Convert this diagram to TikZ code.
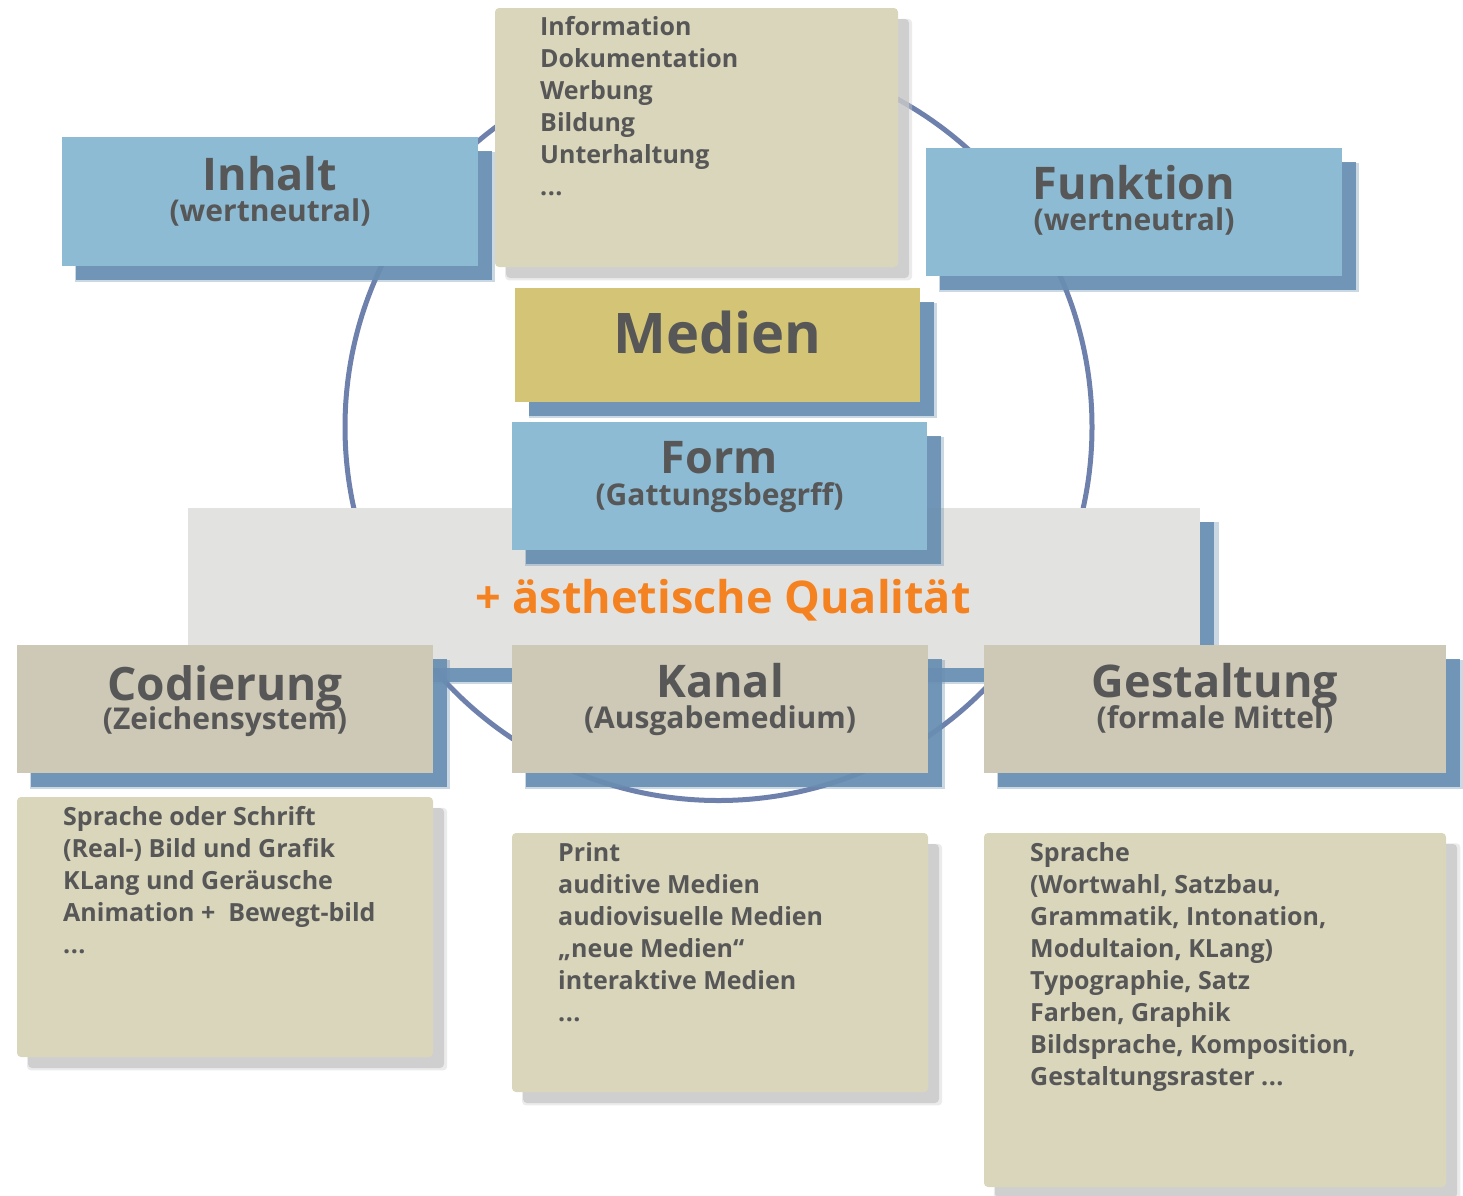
\documentclass[tikz,border=0pt]{standalone}
\usepackage{fontspec}
\setmainfont{Open Sans}
\usetikzlibrary{shadows}

\definecolor{boxblue}{RGB}{141,187,212}
\definecolor{shadowblue}{RGB}{104,142,177}
\definecolor{medgold}{RGB}{212,196,118}
\definecolor{kanalgray}{RGB}{206,200,183}
\definecolor{listbeige}{RGB}{218,214,188}
\definecolor{bandgray}{RGB}{226,226,224}
\definecolor{textgray}{RGB}{87,87,87}
\definecolor{qualorange}{RGB}{245,130,32}
\definecolor{ringblue}{RGB}{110,128,172}

\newcommand{\etc}{.\kern0.5pt.\kern0.5pt.}

\tikzset{
  panel/.style={rectangle, inner sep=0pt, draw=none,
    drop shadow={shadow xshift=15pt, shadow yshift=-15pt, shadow scale=1.008, fill=shadowblue, opacity=0.35},
    drop shadow={shadow xshift=14pt, shadow yshift=-14pt, fill=shadowblue, opacity=0.9}},
  listpanel/.style={rectangle, rounded corners=4pt, inner sep=0pt, draw=none, fill=listbeige,
    drop shadow={shadow xshift=12pt, shadow yshift=-12pt, shadow scale=1.01, fill=black!20, opacity=0.4},
    drop shadow={shadow xshift=11pt, shadow yshift=-11pt, fill=black!22, opacity=0.75}},
  headline/.style={anchor=base, inner sep=0pt, text=textgray, font=\fontsize{45}{45}\selectfont\bfseries},
  subline/.style={anchor=base, inner sep=0pt, text=textgray, font=\fontsize{30}{30}\selectfont\bfseries},
  item/.style={anchor=base west, inner sep=0pt, text=textgray, font=\fontsize{25}{25}\selectfont\bfseries}
}

\begin{document}
\begin{tikzpicture}[x=1pt, y=-1pt]
  \useasboundingbox (0,0) rectangle (1463,1195);

  % ring behind everything
  \draw[ringblue, line width=5pt] (718.5,427) circle[radius=373.5];

  % top: Funktion list
  \node[listpanel, minimum width=403pt, minimum height=259pt] (ziele) at (696.5,137.5) {};
  \foreach \t [count=\i] in {Information, Dokumentation, Werbung, Bildung, Unterhaltung, {\etc}}
    \node[item] (ziele-\i) at (540, 35+32*\i-32) {\t};

  \node[panel, fill=boxblue, minimum width=416pt, minimum height=129pt] (inhalt) at (270,201.5) {};
  \node[headline] (inhalt-t) at (270,190) {Inhalt};
  \node[subline] (inhalt-s) at (270,221) {(wertneutral)};

  \node[panel, fill=boxblue, minimum width=416pt, minimum height=128pt] (funktion) at (1134,212) {};
  \node[headline] (funktion-t) at (1134,199) {Funktion};
  \node[subline] (funktion-s) at (1134,230) {(wertneutral)};

  \node[panel, fill=medgold, minimum width=405pt, minimum height=114pt] (medien) at (717.5,345) {};
  \node[headline, font=\fontsize{56}{56}\selectfont\bfseries] (medien-t) at (717.5,353) {Medien};

  % band with the quality
  \node[panel, fill=bandgray, minimum width=1012pt, minimum height=160pt] (band) at (694,588) {};

  \node[panel, fill=boxblue, minimum width=415pt, minimum height=128pt] (form) at (719.5,486) {};
  \node[headline] (form-t) at (719.5,473) {Form};
  \node[subline] (form-s) at (719.5,505) {(Gattungsbegrff)};

  \node[anchor=base, inner sep=0pt, text=qualorange, font=\fontsize{45}{45}\selectfont\bfseries]
    (qualitaet) at (723,613) {+ ästhetische Qualität};

  % lower row
  \node[panel, fill=kanalgray, minimum width=416pt, minimum height=128pt] (codierung) at (225,709) {};
  \node[headline, font=\fontsize{46}{46}\selectfont\bfseries] (codierung-t) at (225,700) {Codierung};
  \node[subline] (codierung-s) at (225,729) {(Zeichensystem)};

  \node[panel, fill=kanalgray, minimum width=416pt, minimum height=128pt] (kanal) at (720,709) {};
  \node[headline] (kanal-t) at (720,697) {Kanal};
  \node[subline] (kanal-s) at (720,728) {(Ausgabemedium)};

  \node[panel, fill=kanalgray, minimum width=462pt, minimum height=128pt] (gestaltung) at (1215,709) {};
  \node[headline] (gestaltung-t) at (1215,697) {Gestaltung};
  \node[subline] (gestaltung-s) at (1215,728) {(formale Mittel)};

  % lists under the lower row
  \node[listpanel, minimum width=416pt, minimum height=260pt] (zeichen) at (225,927) {};
  \foreach \t [count=\i] in {Sprache oder Schrift, (Real-) Bild und Grafik, KLang und Geräusche,
      Animation + \ Bewegt-bild, {\etc}}
    \node[item] (zeichen-\i) at (63, 825+32*\i-32) {\t};

  \node[listpanel, minimum width=416pt, minimum height=259pt] (ausgabe) at (720,962.5) {};
  \foreach \t [count=\i] in {Print, auditive Medien, audiovisuelle Medien, „neue Medien“,
      interaktive Medien, {\etc}}
    \node[item] (ausgabe-\i) at (558, 861+32*\i-32) {\t};

  \node[listpanel, minimum width=462pt, minimum height=354pt] (mittel) at (1215,1010) {};
  \foreach \t [count=\i] in {Sprache, {(Wortwahl, Satzbau,}, {Grammatik, Intonation,},
      {Modultaion, KLang)}, {Typographie, Satz}, {Farben, Graphik},
      {Bildsprache, Komposition,}, {Gestaltungsraster \etc}}
    \node[item] (mittel-\i) at (1030, 861+32*\i-32) {\t};
\end{tikzpicture}
\end{document}
